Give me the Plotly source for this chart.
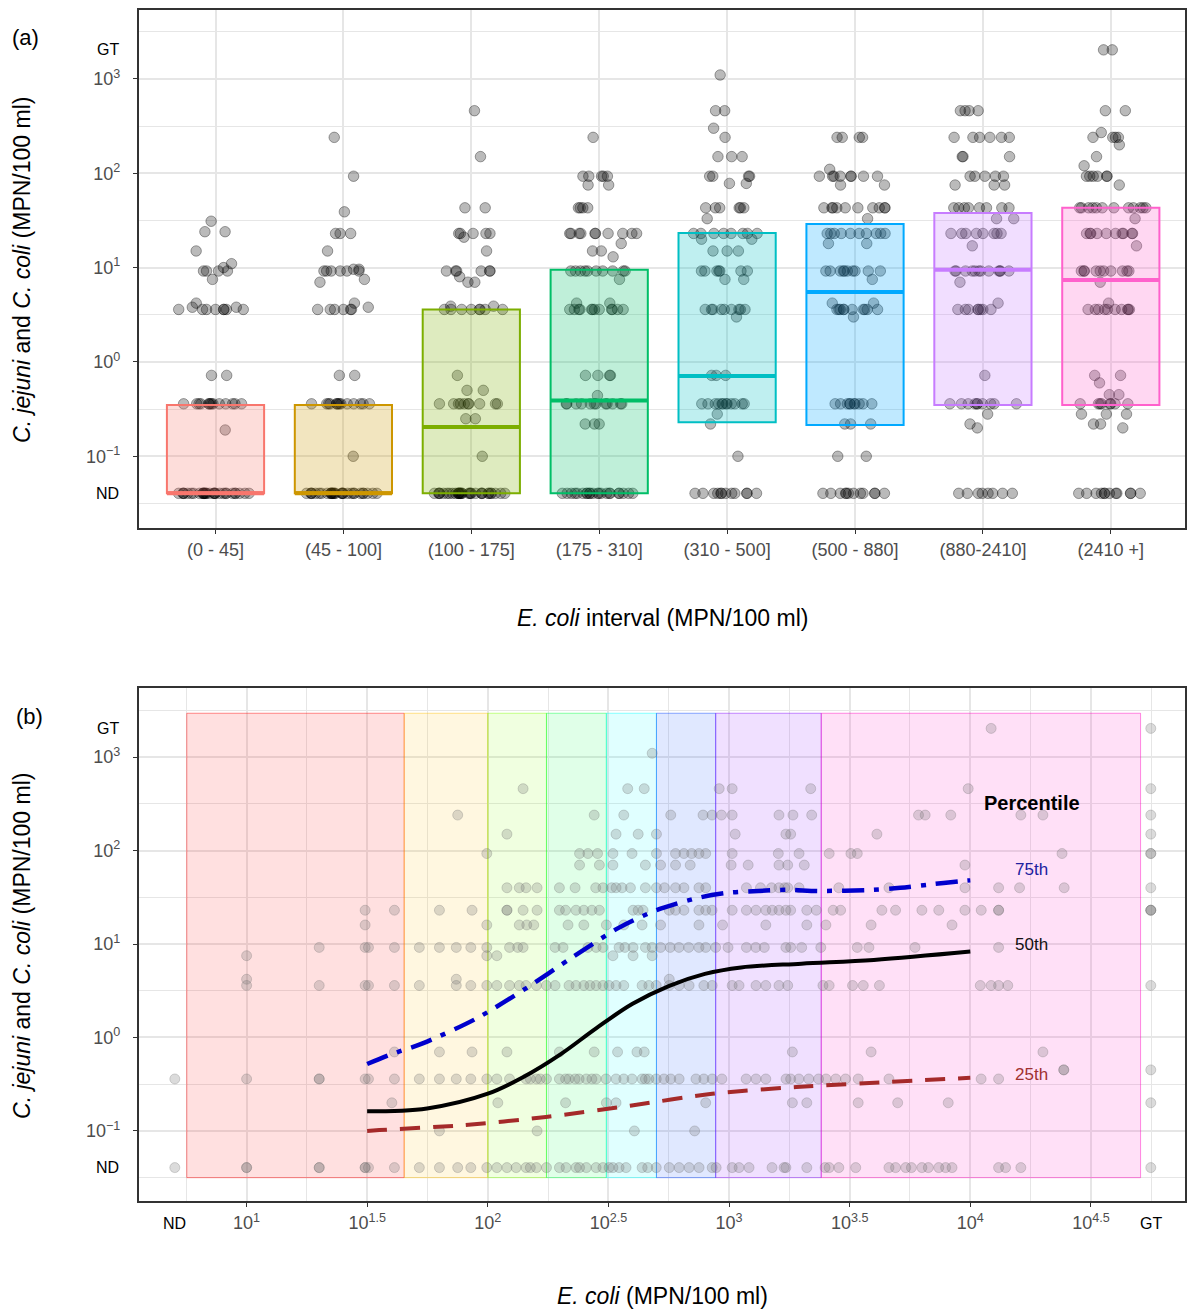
import numpy as np
import plotly.graph_objects as go

W, H = 1187, 1311
FONT = "Liberation Sans"

# plotting positions used for "not detected" / "greater than" results
ND_Y = 0.0405
GT_Y = 2030
ND_X = 5.04
GT_X = 56000

# ---------------- panel (a) data ----------------
categories = ["(0 - 45]", "(45 - 100]", "(100 - 175]", "(175 - 310]",
              "(310 - 500]", "(500 - 880]", "(880-2410]", "(2410 +]"]
box_q1 = [ND_Y, ND_Y, ND_Y, ND_Y, 0.23, 0.215, 0.35, 0.35]
box_median = [ND_Y, ND_Y, 0.204, 0.39, 0.71, 5.5, 9.5, 7.4]
box_q3 = [0.35, 0.35, 3.6, 9.5, 23.3, 29, 38, 43]
box_colors = ["#F8766D", "#CD9600", "#7CAE00", "#00BE67",
              "#00BFC4", "#00A9FF", "#C77CFF", "#FF61CC"]

pts_c1 = [(31, 1), (24, 2), (15, 1), (11, 1), (10, 1), (9.2, 4), (7.5, 1), (4.2, 1), (3.8, 2), (3.6, 8),
          (0.72, 2), (0.36, 14), (0.19, 1), (ND_Y, 30)]
pts_c2 = [(240, 1), (93, 1), (39, 1), (23, 3), (15, 1), (9.6, 2), (9.2, 6), (7.5, 1), (7.0, 1), (4.2, 1),
          (3.8, 1), (3.6, 6), (0.72, 2), (0.36, 14), (0.1, 1), (ND_Y, 30)]
pts_c3 = [(460, 1), (150, 1), (43, 2), (23, 5), (21, 1), (15, 1), (9.2, 6), (8, 1), (7, 2), (3.9, 2),
          (3.6, 8), (0.72, 1), (0.5, 2), (0.36, 10), (0.25, 2), (0.1, 1), (ND_Y, 32)]
pts_c4 = [(240, 1), (93, 5), (75, 2), (43, 4), (23, 10), (18, 1), (15, 2), (13, 1), (9.2, 10), (7.5, 1),
          (4.2, 2), (3.6, 12), (0.72, 4), (0.44, 1), (0.36, 12), (0.22, 3), (ND_Y, 22)]
pts_c5 = [(1100, 1), (460, 2), (300, 1), (240, 1), (150, 3), (93, 4), (78, 2), (43, 6), (33, 1), (23, 8),
          (20, 2), (15, 3), (9.2, 7), (7.5, 2), (3.6, 9), (3.0, 1), (0.72, 3), (0.36, 12), (0.28, 1),
          (0.22, 1), (0.1, 1), (ND_Y, 12)]
pts_c6 = [(240, 4), (110, 1), (93, 8), (75, 2), (43, 10), (33, 1), (23, 10), (18, 2), (9.2, 10), (7.5, 1),
          (4.2, 2), (3.6, 10), (3.0, 1), (0.36, 10), (0.22, 3), (0.1, 2), (ND_Y, 12)]
pts_c7 = [(460, 4), (240, 6), (150, 3), (93, 5), (75, 3), (43, 8), (33, 2), (23, 8), (17, 1), (9.2, 12),
          (7, 1), (4.2, 1), (3.6, 8), (0.72, 1), (0.36, 10), (0.28, 1), (0.22, 1), (0.2, 1), (ND_Y, 8)]
pts_c8 = [(GT_Y, 2), (460, 2), (270, 1), (240, 4), (200, 1), (150, 1), (120, 1), (93, 6), (75, 1), (43, 12),
          (33, 1), (23, 10), (17, 1), (9.2, 10), (7, 1), (4.2, 1), (3.6, 10), (0.72, 2), (0.6, 1),
          (0.45, 2), (0.36, 8), (0.28, 3), (0.22, 2), (0.2, 1), (ND_Y, 12)]
points_by_cat = [pts_c1, pts_c2, pts_c3, pts_c4, pts_c5, pts_c6, pts_c7, pts_c8]

# ---------------- panel (b) data ----------------
band_edges = [5.65, 45, 100, 175, 310, 500, 880, 2410, 50800]
band_bottom, band_top = 0.0316, 2950
band_colors = ["#FF0000", "#FFBF00", "#80FF00", "#00FF40", "#00FFFF", "#0040FF", "#8000FF", "#FF00BF"]

campy_levels = [ND_Y, 0.1, 0.2, 0.36, 0.45, 0.7, 3.6, 4.2, 7.5, 9.2, 16, 23, 40, 70, 93, 150, 240, 460, 1100, GT_Y]
ecoli_at_level = [
    [ND_X, 10, 10, 20, 20, 31, 31, 32, 41, 52, 63, 75, 85, 99, 109, 120, 131, 144, 150, 159, 175, 198, 211,
     232, 240, 256, 281, 300, 318, 330, 350, 374, 436, 460, 499, 565, 621, 683, 751, 851, 884, 1030, 1100,
     1210, 1507, 1690, 1720, 2100, 2500, 2600, 2850, 3350, 4600, 4900, 5400, 5700, 6300, 6700, 7400, 7900,
     8400, 13100, 14000, 16200, GT_X],
    [63, 160, 405, 720],
    [40, 110, 210, 310, 340, 800, 1830, 2100, 3430, 5000, 8100, GT_X],
    [ND_X, 10, 20, 20, 31, 32, 41, 52, 63, 74, 85, 99, 109, 123, 144, 150, 159, 165, 175, 198, 210, 217, 230,
     239, 256, 270, 281, 309, 340, 366, 396, 436, 450, 465, 499, 537, 573, 621, 729, 786, 851, 934, 1177,
     1293, 1420, 1722, 1800, 1947, 2140, 2350, 2523, 2770, 3040, 3430, 4600, 11090, 13100],
    [24400, 24400, GT_X],
    [41, 63, 86, 120, 198, 276, 345, 415, 445, 1830, 3880, 20000],
    [10, 20, 31, 32, 41, 52, 74, 85, 99, 109, 123, 135, 144, 159, 175, 190, 217, 232, 250, 265, 281, 300, 318,
     340, 366, 436, 465, 499, 565, 621, 683, 786, 851, 1030, 1100, 1293, 1420, 1610, 1750, 2450, 2600, 3250,
     3600, 4200, 11000, 12200, 13100, 14300, GT_X],
    [10, 74, 565],
    [10, 99, 109, 330, 400, 480],
    [20, 31, 32, 41, 52, 63, 74, 85, 99, 123, 133, 140, 190, 205, 260, 281, 300, 350, 370, 400, 450, 480, 520,
     570, 620, 680, 750, 800, 880, 990, 1180, 1290, 1400, 1720, 1800, 2000, 2400, 3400, 3800, 5900, 13100],
    [31, 99, 135, 145, 155, 215, 250, 310, 366, 436, 520, 750, 940, 1420, 2100, 2520, 3880, 8400],
    [31, 41, 63, 86, 120, 120, 140, 160, 198, 210, 232, 250, 270, 290, 400, 420, 440, 565, 600, 650, 750, 800,
     850, 1030, 1180, 1293, 1420, 1510, 1610, 1720, 1800, 2100, 2300, 2700, 2900, 4300, 4900, 6300, 7400,
     9500, 11100, 13100, 13100, GT_X, GT_X, GT_X],
    [120, 135, 144, 160, 198, 230, 280, 300, 326, 340, 360, 390, 450, 500, 540, 600, 650, 750, 800, 1180, 1350,
     1500, 1610, 1700, 1750, 1950, 2850, 4600, 9500, 13100, 16000, 24500, GT_X],
    [240, 290, 330, 450, 520, 600, 690, 1020, 1200, 1610, 1750, 2050, 9500],
    [99, 240, 260, 285, 330, 396, 500, 600, 650, 700, 750, 800, 1030, 1600, 1950, 2600, 3200, 3400, 24000,
     GT_X, GT_X],
    [120, 340, 420, 500, 1060, 1720, 1800, 4100, GT_X],
    [75, 276, 366, 573, 780, 850, 930, 1030, 1610, 1840, 2200, 6100, 6500, 8300, 16200, 20000, GT_X],
    [140, 380, 445, 910, 1030, 2180, 9800, GT_X],
    [480],
    [12200, GT_X],
]

p75_ecoli = [31.6, 39, 54, 89, 145, 224, 347, 500, 760, 1000, 1320, 1740, 2340, 3900, 5130, 6900, 8900, 10000]
p75_campy = [0.52, 0.65, 0.87, 1.58, 3.4, 7.2, 14.8, 23, 31.6, 35.5, 37, 38, 37, 38, 40, 43.6, 46.8, 48]
p50_ecoli = [31.6, 56, 100, 141, 200, 282, 398, 562, 794, 1122, 1995, 3981, 10000]
p50_campy = [0.162, 0.174, 0.25, 0.38, 0.66, 1.26, 2.29, 3.55, 4.79, 5.62, 6.17, 6.76, 8.3]
p25_ecoli = [31.6, 35.5, 78, 174, 389, 851, 1900, 10000]
p25_campy = [0.10, 0.102, 0.115, 0.141, 0.186, 0.25, 0.295, 0.37]

pct_labels = ["75th", "50th", "25th"]
pct_label_campy = [63, 9.8, 0.40]
pct_label_colors = ["#2020A0", "#111111", "#A03030"]
pct_label_ecoli = 18000

y_major = [-1, 0, 1, 2, 3]
y_major_text = ["10<sup>−1</sup>", "10<sup>0</sup>", "10<sup>1</sup>", "10<sup>2</sup>", "10<sup>3</sup>"]
y_minor = [-1.5, -0.5, 0.5, 1.5, 2.5, 3.5]
x2_major = [1, 1.5, 2, 2.5, 3, 3.5, 4, 4.5]
x2_major_text = ["10<sup>1</sup>", "10<sup>1.5</sup>", "10<sup>2</sup>", "10<sup>2.5</sup>", "10<sup>3</sup>",
                 "10<sup>3.5</sup>", "10<sup>4</sup>", "10<sup>4.5</sup>"]
x2_minor = [0.75, 1.25, 1.75, 2.25, 2.75, 3.25, 3.75, 4.25, 4.75]

lg = np.log10


def px(x):
    return x / W


def py(y):
    return 1 - y / H


fig = go.Figure()

BOX_W = 0.76
# jittered points (panel a)
for i, pts in enumerate(points_by_cat):
    vals = []
    for v, c in pts:
        vals += [v] * c
    fig.add_trace(go.Box(
        x=[i + 1] * len(vals), y=lg(np.array(vals, dtype=float)), xaxis="x", yaxis="y",
        boxpoints="all", jitter=0.78, pointpos=0, width=BOX_W,
        fillcolor="rgba(0,0,0,0)", line=dict(color="rgba(0,0,0,0)", width=0),
        marker=dict(color="rgba(0,0,0,0.27)", size=10.5, line=dict(color="rgba(0,0,0,0.35)", width=1)),
        showlegend=False, hoverinfo="y"))

# boxes (panel a)
for i in range(len(categories)):
    c = box_colors[i]
    r, g, b = int(c[1:3], 16), int(c[3:5], 16), int(c[5:7], 16)
    fig.add_trace(go.Box(
        x=[i + 1], q1=[lg(box_q1[i])], median=[lg(box_median[i])], q3=[lg(box_q3[i])],
        lowerfence=[lg(box_q1[i])], upperfence=[lg(box_q3[i])], xaxis="x", yaxis="y",
        width=BOX_W, whiskerwidth=0, boxpoints=False,
        fillcolor=f"rgba({r},{g},{b},0.25)", line=dict(color=c, width=2), showlegend=False))
    fig.add_trace(go.Scatter(
        x=[i + 1 - BOX_W / 2, i + 1 + BOX_W / 2], y=[lg(box_median[i])] * 2, xaxis="x", yaxis="y",
        mode="lines", line=dict(color=c, width=4), showlegend=False, hoverinfo="skip"))

# bands (panel b)
shapes = []
for i in range(len(band_colors)):
    c = band_colors[i]
    r, g, b = int(c[1:3], 16), int(c[3:5], 16), int(c[5:7], 16)
    shapes.append(dict(type="rect", xref="x2", yref="y2",
                       x0=lg(band_edges[i]), x1=lg(band_edges[i + 1]),
                       y0=lg(band_bottom), y1=lg(band_top), layer="between",
                       fillcolor=f"rgba({r},{g},{b},0.12)",
                       line=dict(color=f"rgba({r},{g},{b},0.45)", width=1)))

# scatter (panel b)
bx, by = [], []
for lev, xs in zip(campy_levels, ecoli_at_level):
    bx += list(xs)
    by += [lev] * len(xs)
fig.add_trace(go.Scatter(
    x=lg(np.array(bx, dtype=float)), y=lg(np.array(by, dtype=float)), xaxis="x2", yaxis="y2",
    mode="markers", marker=dict(color="rgba(110,110,110,0.25)", size=10,
                                line=dict(color="rgba(110,110,110,0.28)", width=1)),
    showlegend=False, hoverinfo="skip"))

# percentile curves
fig.add_trace(go.Scatter(x=lg(p75_ecoli), y=lg(p75_campy), xaxis="x2", yaxis="y2", mode="lines",
                         line=dict(color="#0000CD", width=4.5, dash="22px,10px,5px,10px", shape="spline",
                                   smoothing=0.8), showlegend=False))
fig.add_trace(go.Scatter(x=lg(p50_ecoli), y=lg(p50_campy), xaxis="x2", yaxis="y2", mode="lines",
                         line=dict(color="black", width=4, shape="spline", smoothing=1.0), showlegend=False))
fig.add_trace(go.Scatter(x=lg(p25_ecoli), y=lg(p25_campy), xaxis="x2", yaxis="y2", mode="lines",
                         line=dict(color="#A52A2A", width=4, dash="20px,13px", shape="spline", smoothing=0.8),
                         showlegend=False))

GRID = "#E6E6E6"
FRAME = "#333333"
TICKF = dict(family=FONT, size=18, color="#4D4D4D")


def yaxis_cfg(domain, rng):
    return dict(domain=domain, range=rng, tickmode="array", tickvals=y_major, ticktext=y_major_text,
                showgrid=True, gridcolor=GRID, gridwidth=1.5, zeroline=False,
                minor=dict(tickmode="array", tickvals=y_minor, showgrid=True, gridcolor=GRID, gridwidth=0.8,
                           ticks=""),
                showline=True, mirror=True, linecolor=FRAME, linewidth=1.6,
                ticks="outside", ticklen=4, tickcolor=FRAME, tickwidth=1.2,
                tickfont=TICKF, ticklabelstandoff=9, fixedrange=True)


layout = dict(
    width=W, height=H, margin=dict(l=0, r=0, t=0, b=0),
    paper_bgcolor="white", plot_bgcolor="white", showlegend=False,
    xaxis=dict(domain=[px(139), 1.0], range=[0.4, 8.58], anchor="y",
               tickmode="array", tickvals=list(range(1, 9)), ticktext=categories,
               showgrid=True, gridcolor=GRID, gridwidth=1.5, zeroline=False,
               showline=True, mirror=True, linecolor=FRAME, linewidth=1.6,
               ticks="outside", ticklen=4, tickcolor=FRAME, tickwidth=1.2, tickfont=TICKF,
               ticklabelstandoff=1, fixedrange=True),
    yaxis=yaxis_cfg([py(528), py(10)], [-1.76, 3.73]),
    xaxis2=dict(domain=[px(139), 1.0], range=[0.553, 4.89], anchor="y2",
                tickmode="array", tickvals=x2_major, ticktext=x2_major_text,
                showgrid=True, gridcolor=GRID, gridwidth=1.5, zeroline=False,
                minor=dict(tickmode="array", tickvals=x2_minor, showgrid=True, gridcolor=GRID,
                           gridwidth=0.8, ticks=""),
                showline=True, mirror=True, linecolor=FRAME, linewidth=1.6,
                ticks="outside", ticklen=4, tickcolor=FRAME, tickwidth=1.2, tickfont=TICKF,
                ticklabelstandoff=1, fixedrange=True),
    yaxis2=yaxis_cfg([py(1201), py(688)], [-1.75, 3.74]),
    shapes=shapes,
    boxmode="overlay",
)
fig.update_layout(**layout)

ann = []
TITLE_F = dict(family=FONT, size=23, color="black")
ytitle = "<i>C. jejuni</i> and <i>C. coli</i> (MPN/100 ml)"
ann.append(dict(x=px(22), y=py(270), xref="paper", yref="paper", text=ytitle, textangle=-90,
                showarrow=False, font=TITLE_F, xanchor="center", yanchor="middle"))
ann.append(dict(x=px(22), y=py(946), xref="paper", yref="paper", text=ytitle, textangle=-90,
                showarrow=False, font=TITLE_F, xanchor="center", yanchor="middle"))
ann.append(dict(x=px(664), y=py(618), xref="paper", yref="paper",
                text="<i>E. coli</i> interval (MPN/100 ml)", showarrow=False, font=TITLE_F,
                xanchor="center", yanchor="middle"))
ann.append(dict(x=px(664), y=py(1296), xref="paper", yref="paper",
                text="<i>E. coli</i> (MPN/100 ml)", showarrow=False, font=TITLE_F,
                xanchor="center", yanchor="middle"))
ann.append(dict(x=px(26), y=py(37), xref="paper", yref="paper", text="(a)", showarrow=False,
                font=dict(family=FONT, size=22, color="black"), xanchor="center", yanchor="middle"))
ann.append(dict(x=px(30), y=py(716), xref="paper", yref="paper", text="(b)", showarrow=False,
                font=dict(family=FONT, size=22, color="black"), xanchor="center", yanchor="middle"))

SMALL = dict(family=FONT, size=16, color="black")
for yr in ["y", "y2"]:
    ann.append(dict(x=px(121), y=lg(ND_Y), xref="paper", yref=yr, text="ND", showarrow=False,
                    font=SMALL, xanchor="right", yanchor="middle"))
    ann.append(dict(x=px(121), y=lg(GT_Y), xref="paper", yref=yr, text="GT", showarrow=False,
                    font=SMALL, xanchor="right", yanchor="middle"))
ann.append(dict(x=lg(ND_X), y=py(1223), xref="x2", yref="paper", text="ND", showarrow=False,
                font=SMALL, xanchor="center", yanchor="middle"))
ann.append(dict(x=lg(GT_X), y=py(1223), xref="x2", yref="paper", text="GT", showarrow=False,
                font=SMALL, xanchor="center", yanchor="middle"))

ann.append(dict(x=lg(pct_label_ecoli), y=lg(320), xref="x2", yref="y2", text="<b>Percentile</b>",
                showarrow=False, font=dict(family=FONT, size=20, color="black"),
                xanchor="center", yanchor="middle"))
for t, cy, col in zip(pct_labels, pct_label_campy, pct_label_colors):
    ann.append(dict(x=lg(pct_label_ecoli), y=lg(cy), xref="x2", yref="y2", text=t, showarrow=False,
                    font=dict(family=FONT, size=17, color=col), xanchor="center", yanchor="middle"))
fig.update_layout(annotations=ann)

fig.write_html("out.html")
